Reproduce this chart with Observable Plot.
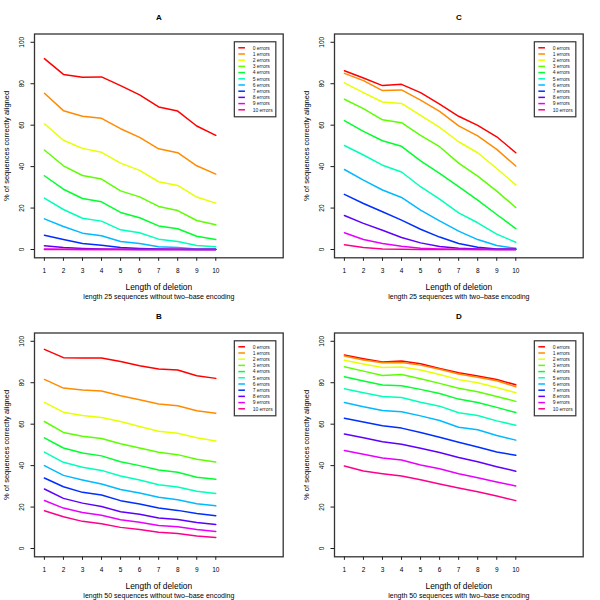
<!DOCTYPE html>
<html><head><meta charset="utf-8">
<script src="https://cdn.jsdelivr.net/npm/d3@7"></script>
<script src="https://cdn.jsdelivr.net/npm/@observablehq/plot@0.6"></script>
<style>
html,body{margin:0;padding:0;background:#fff;overflow:hidden}
#root{position:relative;width:600px;height:600px}
.panel{position:absolute;width:300px;height:300px}
.panel svg{overflow:visible}
</style>
</head><body><div id="root"></div>
<script>
const lengths = [1,2,3,4,5,6,7,8,9,10];
const yTicks = [0,20,40,60,80,100];
const errorLabels = ["0 errors","1 errors","2 errors","3 errors","4 errors","5 errors","6 errors","7 errors","8 errors","9 errors","10 errors"];
const errorColors = ["#FF0000","#FF8B00","#E8FF00","#5DFF00","#00FF2E","#00FFB9","#00B9FF","#002EFF","#5D00FF","#E800FF","#FF008B"];
const panelTitles = ["A","C","B","D"];
const panelSubtitles = [
  "length 25 sequences without two\u2013base encoding",
  "length 25 sequences with two\u2013base encoding",
  "length 50 sequences without two\u2013base encoding",
  "length 50 sequences with two\u2013base encoding"
];
const xLabel = "Length of deletion";
const yLabel = "% of sequences correctly aligned";
const legendAt = [11, 100];

const panelA = [
  [92.1, 84.5, 83.1, 83.3, 79.1, 74.6, 68.8, 66.8, 59.6, 55.1],
  [75.4, 67.0, 64.3, 63.3, 58.3, 54.1, 48.6, 46.7, 40.4, 36.4],
  [60.7, 52.7, 48.8, 46.9, 41.7, 38.2, 32.7, 30.9, 25.3, 22.4],
  [48.0, 40.4, 35.7, 34.0, 28.3, 25.4, 20.8, 18.8, 14.0, 11.9],
  [35.6, 29.1, 24.6, 23.0, 17.9, 15.3, 11.4, 10.0, 6.4, 4.8],
  [24.8, 19.3, 15.1, 13.7, 9.5, 8.1, 5.0, 3.9, 1.9, 1.3],
  [14.8, 11.1, 7.9, 6.6, 3.9, 2.9, 1.3, 1.0, 0.3, 0.2],
  [6.9, 4.8, 2.9, 2.1, 1.0, 0.5, 0.2, 0.1, 0.0, 0.0],
  [1.8, 1.0, 0.5, 0.2, 0.1, 0.0, 0.0, 0.0, 0.0, 0.0],
  [0.3, 0.1, 0.0, 0.0, 0.0, 0.0, 0.0, 0.0, 0.0, 0.0],
  [0.0, 0.0, 0.0, 0.0, 0.0, 0.0, 0.0, 0.0, 0.0, 0.0]
];
const panelC = [
  [86.3, 82.8, 79.1, 79.7, 75.7, 70.2, 64.3, 59.9, 54.4, 46.7],
  [85.0, 81.5, 76.7, 77.0, 72.1, 66.7, 59.7, 54.8, 48.3, 40.3],
  [80.4, 75.7, 71.2, 70.5, 64.7, 58.9, 52.0, 46.7, 39.1, 31.2],
  [72.5, 68.0, 62.6, 61.2, 55.1, 49.6, 41.7, 35.4, 28.2, 20.3],
  [62.2, 57.0, 52.5, 49.8, 42.8, 36.7, 30.3, 23.8, 16.9, 10.1],
  [50.2, 45.6, 40.7, 37.4, 30.3, 24.3, 17.7, 12.9, 7.4, 3.5],
  [38.6, 33.5, 28.7, 25.1, 19.0, 13.8, 8.9, 4.8, 1.9, 0.6],
  [26.6, 22.2, 18.2, 14.2, 9.8, 6.0, 2.9, 1.1, 0.3, 0.2],
  [16.4, 12.6, 9.3, 5.8, 3.2, 1.4, 0.6, 0.2, 0.0, 0.0],
  [8.1, 4.8, 2.9, 1.6, 0.6, 0.3, 0.1, 0.0, 0.0, 0.0],
  [2.3, 1.0, 0.3, 0.1, 0.0, 0.0, 0.0, 0.0, 0.0, 0.0]
];
const panelB = [
  [96.1, 92.1, 91.9, 91.9, 90.2, 88.2, 86.6, 86.1, 83.4, 82.1],
  [81.6, 77.4, 76.5, 76.0, 73.7, 71.8, 69.7, 68.9, 66.5, 65.3],
  [70.5, 65.8, 64.2, 63.2, 61.3, 58.9, 56.6, 55.6, 53.4, 51.9],
  [61.3, 56.0, 54.2, 53.1, 50.6, 48.5, 46.5, 45.3, 43.1, 41.8],
  [53.4, 48.5, 46.1, 44.7, 41.9, 40.0, 37.9, 36.8, 34.4, 33.4],
  [46.5, 41.6, 39.2, 37.7, 35.0, 33.1, 30.8, 29.7, 27.6, 26.6],
  [40.0, 35.3, 33.1, 31.1, 28.5, 26.8, 24.7, 23.5, 21.6, 20.6],
  [34.0, 29.8, 27.1, 25.8, 23.1, 21.5, 19.5, 18.4, 16.9, 15.8],
  [28.7, 24.2, 21.9, 20.3, 17.7, 16.5, 14.7, 14.0, 12.6, 11.6],
  [23.2, 19.5, 17.4, 16.0, 13.9, 12.7, 11.1, 10.5, 9.2, 8.2],
  [18.2, 15.3, 13.1, 11.9, 10.2, 9.2, 7.9, 7.3, 6.0, 5.3]
];
const panelD = [
  [93.4, 91.6, 90.0, 90.5, 89.2, 86.9, 84.8, 83.2, 81.6, 79.0],
  [92.9, 91.0, 89.7, 89.8, 88.5, 86.5, 84.2, 82.7, 81.0, 78.1],
  [90.8, 89.0, 87.3, 87.6, 86.1, 84.0, 81.5, 80.0, 77.7, 75.2],
  [87.7, 85.6, 83.5, 84.0, 81.9, 79.7, 77.3, 75.6, 73.4, 71.0],
  [82.9, 80.8, 78.9, 78.5, 76.8, 74.8, 72.1, 70.5, 68.1, 65.6],
  [77.1, 75.2, 73.4, 72.9, 70.6, 68.7, 65.5, 64.2, 61.6, 59.5],
  [70.5, 68.4, 66.6, 66.0, 64.0, 61.8, 58.5, 57.3, 54.5, 52.3],
  [62.9, 61.1, 59.2, 58.1, 56.0, 53.7, 51.3, 49.0, 46.6, 45.0],
  [55.3, 53.4, 51.5, 50.3, 48.4, 46.3, 43.9, 41.9, 39.5, 37.3],
  [47.3, 45.5, 43.7, 42.7, 40.3, 38.5, 36.1, 34.2, 32.1, 30.2],
  [39.8, 37.4, 36.1, 35.0, 33.2, 31.1, 29.2, 27.4, 25.3, 23.1]
];

const FONT = "'Liberation Sans', Arial, Helvetica, sans-serif";
const panels = [
  {values: panelA, left: 0, top: 0},
  {values: panelC, left: 300, top: 0},
  {values: panelB, left: 0, top: 299},
  {values: panelD, left: 300, top: 299}
];

const root = document.getElementById("root");
panels.forEach((p, k) => {
  const rows = [];
  p.values.forEach((series, i) => series.forEach((v, j) => rows.push({len: lengths[j], pct: v, err: errorLabels[i]})));
  const T = {textAnchor: "middle", lineAnchor: "middle", fill: "#000"};
  const plot = Plot.plot({
    width: 300, height: 300,
    marginLeft: 34, marginRight: 17.3, marginTop: 33.5, marginBottom: 42.7,
    x: {domain: [0.48, 13.54]},
    y: {domain: [-4, 104]},
    color: {domain: errorLabels, range: errorColors},
    style: {fontFamily: FONT, fontSize: "6.5px", background: "transparent", color: "#000", overflow: "visible"},
    marks: [
      Plot.axisX({ticks: lengths, tickSize: 3.5, tickFormat: () => "", label: null, strokeWidth: 0.9}),
      Plot.axisY({ticks: yTicks, tickSize: 3.5, tickFormat: () => "", label: null, strokeWidth: 0.9}),
      Plot.text(lengths, {...T, x: d => d, text: d => String(d), frameAnchor: "bottom", dy: 12.7, fontSize: 6.5}),
      Plot.text(yTicks, {...T, y: d => d, text: d => String(d), frameAnchor: "left", dx: -12.3, rotate: -90, fontSize: 6.5}),
      Plot.line(rows, {x: "len", y: "pct", z: "err", stroke: "err", strokeWidth: 1.5}),
      Plot.frame({stroke: "#333", strokeWidth: 1.3}),
      Plot.text([panelTitles[k]], {...T, frameAnchor: "top", dy: -16.5, fontWeight: "bold", fontSize: 8}),
      Plot.text([xLabel], {...T, frameAnchor: "bottom", dy: 29.4, fontSize: 8.4}),
      Plot.text([panelSubtitles[k]], {...T, frameAnchor: "bottom", dy: 38.7, fontSize: 7}),
      Plot.text([yLabel], {...T, frameAnchor: "left", dx: -28, rotate: -90, fontSize: 7.5})
    ]
  });
  // legend inside the plot, anchored at data coordinates legendAt
  const sx = plot.scale("x"), sy = plot.scale("y");
  const lx = sx.apply(legendAt[0]), ly = sy.apply(legendAt[1]);
  const g = d3.select(plot).append("g").attr("font-family", FONT).attr("font-size", 5).attr("text-anchor", "start");
  g.append("rect").attr("x", lx).attr("y", ly).attr("width", 41.5).attr("height", 75)
    .attr("fill", "#fff").attr("stroke", "#333").attr("stroke-width", 1.2);
  errorLabels.forEach((lab, i) => {
    const yy = ly + 6 + i * 6.2;
    g.append("line").attr("x1", lx + 4).attr("x2", lx + 10.6).attr("y1", yy).attr("y2", yy)
      .attr("stroke", errorColors[i]).attr("stroke-width", 1.5);
    g.append("text").attr("x", lx + 18.3).attr("y", yy).attr("dy", "0.35em").attr("fill", "#222").text(lab);
  });
  const div = document.createElement("div");
  div.className = "panel";
  div.style.left = p.left + "px";
  div.style.top = p.top + "px";
  div.appendChild(plot);
  root.appendChild(div);
});
</script>
</body></html>
